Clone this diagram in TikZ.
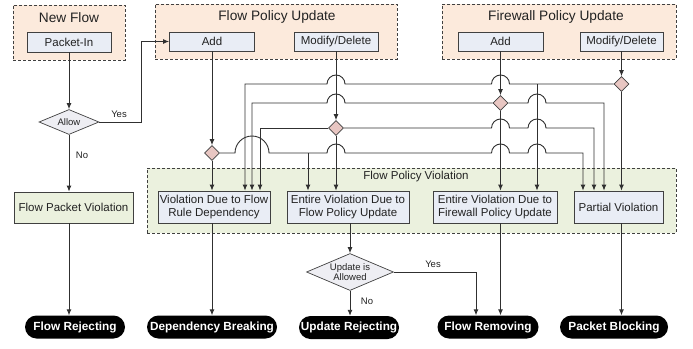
\documentclass[tikz,border=0pt]{standalone}
\usepackage{fontspec}
\setmainfont{Liberation Sans}
\usetikzlibrary{shapes.geometric,arrows.meta,calc}
\definecolor{peach}{HTML}{FCEADC}
\definecolor{lgreen}{HTML}{EBF1DE}
\definecolor{lblue}{HTML}{E9EDF5}
\definecolor{dpink}{HTML}{E8C6C2}
\definecolor{lilac}{HTML}{EEEEF3}
\definecolor{linec}{HTML}{303030}
\definecolor{boxline}{HTML}{404040}
\definecolor{txt}{HTML}{222222}
\begin{document}
\begin{tikzpicture}[x=1pt,y=1pt,
  conn/.style={draw=linec, line width=0.9pt},
  arr/.style={conn, -{Latex[length=6pt,width=5pt]}},
  grp/.style={draw=boxline, dash pattern=on 3pt off 2pt, line width=0.8pt, fill=peach, inner sep=0pt},
  ibox/.style={draw=boxline, line width=0.8pt, fill=lblue, minimum height=19pt, inner sep=0pt, text=txt, font=\fontsize{11.5}{13}\selectfont},
  vbox/.style={ibox, minimum height=32pt, align=center, font=\fontsize{11.5}{13.3}\selectfont},
  term/.style={fill=black, text=white, rounded corners=11.5pt, minimum height=23pt, inner sep=0pt, font=\bfseries\fontsize{11.8}{13}\selectfont},
  dia/.style={diamond, draw=boxline, fill=dpink, minimum width=15pt, minimum height=15pt, inner sep=0pt, line width=0.7pt},
  bigdia/.style={diamond, draw=boxline, fill=lilac, inner sep=0pt, line width=0.7pt},
  lbl/.style={font=\fontsize{9.5}{10.7}\selectfont, text=txt},
  ttl/.style={font=\fontsize{13.7}{15}\selectfont, text=txt}
]
\useasboundingbox (0,0) rectangle (693,-348);

% groups
\node[grp, minimum width=112pt, minimum height=55pt] (gnf) at (69,-32.5) {};
\node[grp, minimum width=242pt, minimum height=55pt] (gfp) at (276,-31.5) {};
\node[grp, minimum width=234pt, minimum height=55pt] (gfw) at (559,-31.5) {};
\node[grp, fill=lgreen, minimum width=529pt, minimum height=65pt] (gpv) at (411.5,-200.5) {};

\node[ttl] (tnf) at (69,-18) {New Flow};
\node[ttl] (tfp) at (277,-17) {Flow Policy Update};
\node[ttl] (tfw) at (556,-17) {Firewall Policy Update};
\node[font=\fontsize{11.5}{13}\selectfont, text=txt] (tpv) at (416,-177) {Flow Policy Violation};

% inner boxes
\node[ibox, minimum width=84pt, minimum height=20pt] (pin) at (69,-42) {Packet-In};
\node[ibox, minimum width=85pt] (fadd) at (212,-41.5) {Add};
\node[ibox, minimum width=84pt] (fmod) at (336,-41.5) {Modify/Delete};
\node[ibox, minimum width=85pt] (wadd) at (500.5,-41.5) {Add};
\node[ibox, minimum width=83pt] (wmod) at (621.5,-41.5) {Modify/Delete};

% decisions
\node[bigdia, minimum width=60pt, minimum height=25pt] (allow) at (69,-122) {};
\node[lbl] (allowt) at (allow) {Allow};
\node[bigdia, minimum width=87pt, minimum height=37pt] (upd) at (350,-272) {};
\node[lbl, align=center] (updt) at (upd) {Update is\\Allowed};

\node[dia] (d1) at (212,-153) {};
\node[dia] (d2) at (336,-128) {};
\node[dia] (d3) at (500.5,-103) {};
\node[dia] (d4) at (621.5,-84) {};

% violation boxes
\node[vbox, fill=lgreen, minimum width=119pt, minimum height=31pt] (fpv) at (73.5,-207.5) {Flow Packet Violation};
\node[vbox, minimum width=112pt] (dep) at (214,-207) {Violation Due to Flow\\Rule Dependency};
\node[vbox, minimum width=122pt] (efp) at (348,-207) {Entire Violation Due to\\Flow Policy Update};
\node[vbox, minimum width=124pt] (efw) at (495,-207) {Entire Violation Due to\\Firewall Policy Update};
\node[vbox, minimum width=89pt] (part) at (618.5,-207) {Partial Violation};

% terminals
\node[term, minimum width=100pt] (rej) at (75,-327) {Flow Rejecting};
\node[term, minimum width=130pt] (dbr) at (212,-327) {Dependency Breaking};
\node[term, minimum width=100pt] (urej) at (349,-327.5) {Update Rejecting};
\node[term, minimum width=101pt] (frem) at (488,-327) {Flow Removing};
\node[term, minimum width=108pt] (pblk) at (614,-327) {Packet Blocking};

% turn points
\coordinate (j4) at (537,-84);
\coordinate (t4) at (245,-84);
\coordinate (t3l) at (252,-103);
\coordinate (t3r) at (604,-103);
\coordinate (t2l) at (260,-128);
\coordinate (t2r) at (594,-128);
\coordinate (b1) at (308,-153);
\coordinate (t1r) at (583,-153);

% new flow
\draw[arr] (pin.south) -- (allow.north);
\draw[arr] (allow.east) -| ($(fadd.west)+(-28,0)$) -- (fadd.west);
\node[lbl] (yes1) at (119,-114) {Yes};
\draw[arr] (allow.south) -- (allow.south |- fpv.north);
\node[lbl] (no1) at (82,-155) {No};
\draw[arr] (allow.south |- fpv.south) -- (allow.south |- rej.north);

% flow add
\draw[arr] (fadd.south) -- (d1.north);
\draw[arr] (d1.south) -- (d1.south |- dep.north);
\draw[arr] (d1 |- dep.south) -- (d1 |- dbr.north);

% flow modify
\draw[arr] (fmod.south) -- (d2.north);
\draw[arr] (d2.south) -- (d2.south |- efp.north);
\draw[arr] (upd.north |- efp.south) -- (upd.north);
\draw[arr] (upd.east) -| ($(frem.north)+(-12,0)$);
\node[lbl] (yes2) at (433,-264) {Yes};
\draw[arr] (upd.south) -- (upd.south |- urej.north);
\node[lbl] (no2) at (367,-301) {No};

% firewall add
\draw[arr] (wadd.south) -- (d3.north);
\draw[arr] (d3.south) -- (d3.south |- efw.north);
\draw[arr] (d3 |- efw.south) -- (d3 |- frem.north);

% firewall modify
\draw[arr] (wmod.south) -- (d4.north);
\draw[arr] (d4.south) -- (d4.south |- part.north);
\draw[arr] (d4 |- part.south) -- (d4 |- pblk.north);

% H4
\draw[arr] (d4.west) -- ($(d3|-d4)+(9,0)$) arc[start angle=0,end angle=180,radius=9pt]
  -- ($(d2|-d4)+(9,0)$) arc[start angle=0,end angle=180,radius=9pt]
  -- (t4) -- (t4 |- dep.north);
\draw[arr] (j4) -- (j4 |- efw.north);

% H3
\draw[arr] (d3.west) -- ($(d2|-d3)+(9,0)$) arc[start angle=0,end angle=180,radius=9pt]
  -- (t3l) -- (t3l |- dep.north);
\draw[arr] (d3.east) -- ($(j4|-d3)+(-9,0)$) arc[start angle=180,end angle=0,radius=9pt]
  -- (t3r) -- (t3r |- part.north);

% H2
\draw[arr] (d2.west) -- (t2l) -- (t2l |- dep.north);
\draw[arr] (d2.east) -- ($(d3|-d2)+(-9,0)$) arc[start angle=180,end angle=0,radius=9pt]
  -- ($(j4|-d2)+(-9,0)$) arc[start angle=180,end angle=0,radius=9pt]
  -- (t2r) -- (t2r |- part.north);

% H1
\draw[arr] (d1.east) -- ($(t3l|-d1)+(-17,0)$) arc[start angle=180,end angle=0,radius=17pt]
  -- ($(d2|-d1)+(-9,0)$) arc[start angle=180,end angle=0,radius=9pt]
  -- ($(d3|-d1)+(-9,0)$) arc[start angle=180,end angle=0,radius=9pt]
  -- ($(j4|-d1)+(-9,0)$) arc[start angle=180,end angle=0,radius=9pt]
  -- (t1r) -- (t1r |- part.north);
\draw[arr] (b1) -- (b1 |- efp.north);

\end{tikzpicture}
\end{document}
